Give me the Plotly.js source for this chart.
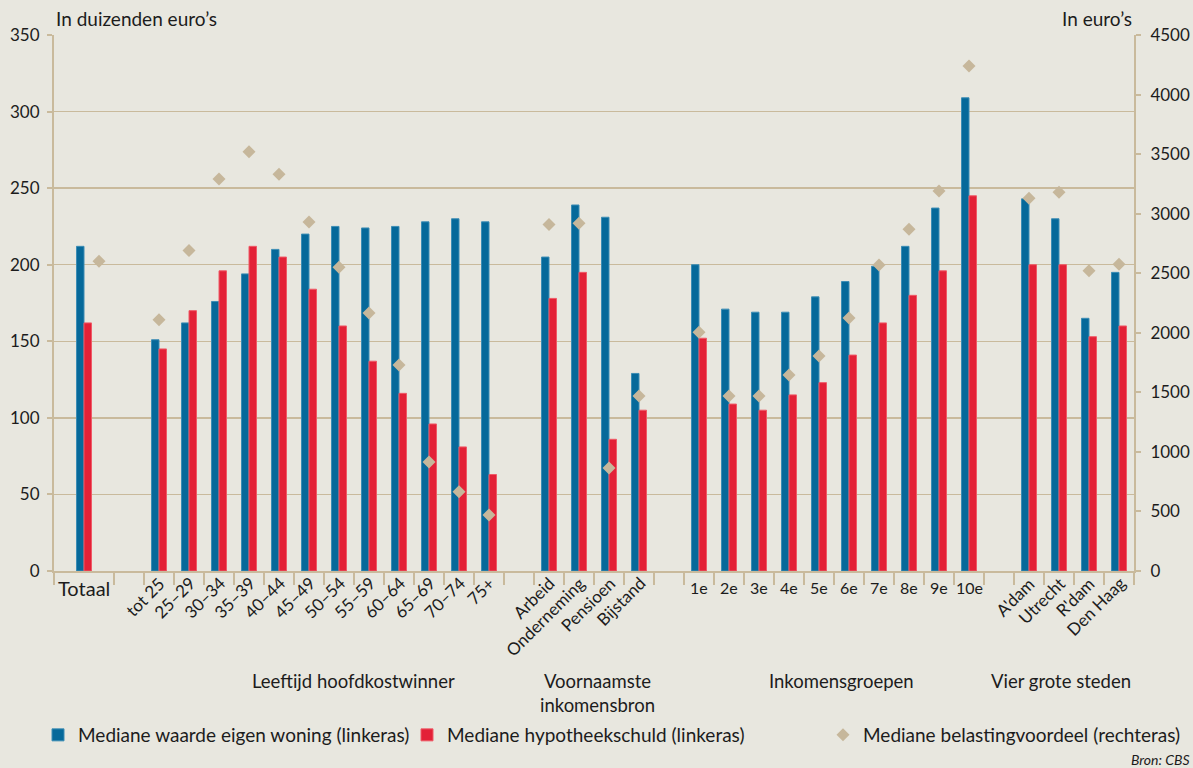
<!DOCTYPE html>
<html>
<head>
<meta charset="utf-8">
<script src="https://cdn.plot.ly/plotly-3.0.1.min.js"></script>
<style>
  html, body { margin: 0; padding: 0; background: #e8e7df; }
  #chart { width: 1193px; height: 768px; }
</style>
</head>
<body>
<div id="chart"></div>
<script>
// ---- Data ----
const totaalLabels = ["Totaal"];
const ageLabels = ["tot 25", "25–29", "30–34", "35–39", "40–44", "45–49", "50–54", "55–59", "60–64", "65–69", "70–74", "75+"];
const sourceLabels = ["Arbeid", "Onderneming", "Pensioen", "Bijstand"];
const incomeLabels = ["1e", "2e", "3e", "4e", "5e", "6e", "7e", "8e", "9e", "10e"];
const cityLabels = ["A'dam", "Utrecht", "R'dam", "Den Haag"];

const groupTitles = ["", "Leeftijd hoofdkostwinner", "Voornaamste<br>inkomensbron", "Inkomensgroepen", "Vier grote steden"];

// Mediane waarde eigen woning (x 1000 euro)
const woningTotaal = [212];
const woningAge = [151, 162, 176, 194, 210, 220, 225, 224, 225, 228, 230, 228];
const woningSource = [205, 239, 231, 129];
const woningIncome = [200, 171, 169, 169, 179, 189, 199, 212, 237, 309];
const woningCity = [243, 230, 165, 195];

// Mediane hypotheekschuld (x 1000 euro)
const schuldTotaal = [162];
const schuldAge = [145, 170, 196, 212, 205, 184, 160, 137, 116, 96, 81, 63];
const schuldSource = [178, 195, 86, 105];
const schuldIncome = [152, 109, 105, 115, 123, 141, 162, 180, 196, 245];
const schuldCity = [200, 200, 153, 160];

// Mediane belastingvoordeel (euro)
const voordeelTotaal = [2600];
const voordeelAge = [2110, 2690, 3290, 3520, 3330, 2930, 2550, 2165, 1730, 915, 665, 470];
const voordeelSource = [2910, 2920, 865, 1470];
const voordeelIncome = [2005, 1470, 1470, 1645, 1805, 2125, 2570, 2870, 3190, 4240];
const voordeelCity = [3130, 3180, 2520, 2575];

// ---- Build positions (slot units) ----
const groups = [
  {labels: totaalLabels, w: woningTotaal, s: schuldTotaal, v: voordeelTotaal, rot: false},
  {labels: ageLabels, w: woningAge, s: schuldAge, v: voordeelAge, rot: true},
  {labels: sourceLabels, w: woningSource, s: schuldSource, v: voordeelSource, rot: true},
  {labels: incomeLabels, w: woningIncome, s: schuldIncome, v: voordeelIncome, rot: false},
  {labels: cityLabels, w: woningCity, s: schuldCity, v: voordeelCity, rot: true}
];

const X = [], W = [], S = [], VX = [], V = [];
const annotations = [];
const tickvals = [];
const tan = "#c9ba9c";
const txt = "#1c1c1c";
const font = "Lato, 'Open Sans', sans-serif";
const titleCenters = [0, 353, 597, 841, 1061]; // pixel centres of group titles

let start = 0;
groups.forEach((g, gi) => {
  if (gi === 0) {
    // Totaal spans a double slot
    X.push(start + 1); VX.push(start + 1.5);
    W.push(g.w[0]); S.push(g.s[0]); V.push(g.v[0]);
    tickvals.push(start);
    annotations.push({x: start + 1, y: 0, xref: "x", yref: "paper", text: g.labels[0],
      showarrow: false, xanchor: "center", yanchor: "top", yshift: -3,
      font: {family: font, size: 20, color: txt}});
    start += 3;
    return;
  }
  g.labels.forEach((lab, i) => {
    const c = start + i + 0.5;
    X.push(c); VX.push(c);
    W.push(g.w[i]); S.push(g.s[i]); V.push(g.v[i]);
    if (g.rot) {
      annotations.push({x: c, y: 0, xref: "x", yref: "paper", text: lab, textangle: -45,
        showarrow: false, xanchor: "right", yanchor: "top", xshift: 13, yshift: 1,
        font: {family: font, size: 17, color: txt}});
    } else {
      annotations.push({x: c, y: 0, xref: "x", yref: "paper", text: lab,
        showarrow: false, xanchor: "center", yanchor: "top", yshift: -5,
        font: {family: font, size: 16, color: txt}});
    }
  });
  annotations.push({x: (titleCenters[gi] - 54) / 30, y: 0, xref: "x", yref: "paper", text: groupTitles[gi],
    showarrow: false, xanchor: "center", yanchor: "top", yshift: -97,
    font: {family: font, size: 18.5, color: txt}});
  start += g.labels.length + 1;
});
const xMax = start - 1;
for (let t = 2; t <= xMax; t++) tickvals.push(t);

annotations.push({x: 0, y: 1, xref: "paper", yref: "paper", text: "In duizenden euro’s",
  showarrow: false, xanchor: "left", yanchor: "bottom", yshift: 3,
  font: {family: font, size: 19, color: txt}});
annotations.push({x: 1, y: 1, xref: "paper", yref: "paper", text: "In euro’s",
  showarrow: false, xanchor: "right", yanchor: "bottom", yshift: 3,
  font: {family: font, size: 19, color: txt}});
annotations.push({x: (1192 - 54) / 1080, y: 0, xref: "paper", yref: "paper", text: "<i>Bron: CBS</i>",
  showarrow: false, xanchor: "right", yanchor: "middle", yshift: -(759 - 571),
  font: {family: font, size: 14, color: txt}});

const bw = 0.25;
const traces = [
  {type: "bar", name: "Mediane waarde eigen woning (linkeras)", x: X, y: W,
   width: bw, offset: -bw, marker: {color: "#06699a", line: {color: "#3c8db5", width: 1}},
   legend: "legend", hoverinfo: "y"},
  {type: "bar", name: "Mediane hypotheekschuld (linkeras)", x: X, y: S,
   width: bw, offset: 0, marker: {color: "#e32137", line: {color: "#ef5a67", width: 1}},
   legend: "legend2", hoverinfo: "y"},
  {type: "scatter", mode: "markers", name: "Mediane belastingvoordeel (rechteras)", x: VX, y: V,
   yaxis: "y2", marker: {symbol: "diamond", size: 10, color: "#c6b79b"},
   legend: "legend3", hoverinfo: "y"}
];

const legendFont = {family: font, size: 19, color: txt};
const ly = (571 - 735) / 536;
const layout = {
  width: 1193, height: 768,
  paper_bgcolor: "#e8e7df", plot_bgcolor: "#e8e7df",
  margin: {l: 54, r: 59, t: 35, b: 197, autoexpand: false},
  barmode: "overlay",
  showlegend: true,
  xaxis: {range: [0, xMax], tickmode: "array", tickvals: tickvals, showticklabels: false,
    ticks: "outside", ticklen: 12, tickwidth: 2, tickcolor: tan,
    showline: true, linecolor: tan, linewidth: 2, showgrid: false, zeroline: false, fixedrange: true},
  yaxis: {range: [0, 350], dtick: 50, showgrid: true, gridcolor: tan, gridwidth: 1.5,
    showline: true, linecolor: tan, linewidth: 2, ticks: "outside", ticklen: 5, tickcolor: tan, tickwidth: 2,
    ticklabelstandoff: 4, automargin: false,
    zeroline: false, tickfont: {family: font, size: 17, color: txt}, fixedrange: true},
  yaxis2: {range: [0, 4500], dtick: 500, overlaying: "y", side: "right", showgrid: false,
    showline: true, linecolor: tan, linewidth: 2, ticks: "outside", ticklen: 5, tickcolor: tan, tickwidth: 2,
    ticklabelstandoff: 6, automargin: false,
    zeroline: false, tickfont: {family: font, size: 17, color: txt}, fixedrange: true},
  legend: {x: (38 - 54) / 1080, y: ly, xanchor: "left", yanchor: "middle", orientation: "h",
    bgcolor: "rgba(0,0,0,0)", font: legendFont},
  legend2: {x: (407 - 54) / 1080, y: ly, xanchor: "left", yanchor: "middle", orientation: "h",
    bgcolor: "rgba(0,0,0,0)", font: legendFont},
  legend3: {x: (823 - 54) / 1080, y: ly, xanchor: "left", yanchor: "middle", orientation: "h",
    bgcolor: "rgba(0,0,0,0)", font: legendFont},
  annotations: annotations
};

Plotly.newPlot("chart", traces, layout, {displayModeBar: false, staticPlot: true});
</script>
</body>
</html>
